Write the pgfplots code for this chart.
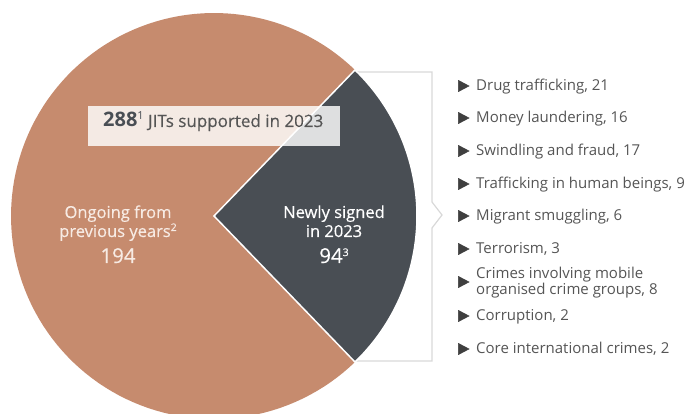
\documentclass[border=0pt]{standalone}
\usepackage{pgfplots}
\pgfplotsset{compat=1.18}
\usepackage{fontspec}
\setmainfont{Open Sans}
\newfontfamily\semib[FakeBold=0.3]{Open Sans}
\definecolor{pieorange}{HTML}{C68B6E}
\definecolor{piedark}{HTML}{494E54}
\definecolor{legtext}{HTML}{555555}
\definecolor{legtri}{HTML}{3F3F3F}
\definecolor{brack}{HTML}{D8D8D8}
\definecolor{ongoingtext}{HTML}{F7EBE4}
\begin{document}
\begin{tikzpicture}
\begin{axis}[
  name=ax,
  width=687bp, height=414bp, scale only axis,
  xmin=0, xmax=687, ymin=0, ymax=414,
  hide axis, clip=true,
]
% bracket
\addplot[brack, line width=1.2bp, sharp plot, no marks] coordinates {
 (350,342) (432,342) (432,212) (442,199) (432,186) (432,53) (350,53)};
% pie: ongoing (194) and newly signed (94)
\addplot[fill=pieorange, draw=none, domain=46:314, samples=120, variable=\t]
  ({214+203*cos(\t)},{198+203*sin(\t)}) -- (axis cs:214,198) -- cycle;
\addplot[fill=piedark, draw=white, line width=1.5bp, domain=-46:46, samples=60, variable=\t]
  ({214+203*cos(\t)},{198+203*sin(\t)}) -- (axis cs:214,198) -- cycle;
% title box
\fill[white, fill opacity=0.82] (axis cs:88,268) rectangle (axis cs:340,308);
\node[anchor=base west, inner sep=0pt, text=piedark] at (axis cs:103,287)
  {\fontsize{20bp}{22bp}\selectfont\bfseries 288\raisebox{7bp}{\fontsize{11bp}{12bp}\selectfont\mdseries 1}\fontsize{17bp}{20bp}\selectfont\mdseries\semib\color{legtext}\ JITs supported in 2023};
% pie labels
\node[anchor=base, inner sep=0pt, text=ongoingtext] at (axis cs:118,196) {\fontsize{16.5bp}{19bp}\selectfont\semib Ongoing from};
\node[anchor=base, inner sep=0pt, text=ongoingtext] at (axis cs:118,177) {\fontsize{16.5bp}{19bp}\selectfont\semib previous years\raisebox{6bp}{\fontsize{10.5bp}{11bp}\selectfont 2}};
\node[anchor=base, inner sep=0pt, text=ongoingtext] at (axis cs:118,151) {\fontsize{20.5bp}{23bp}\selectfont\semib 194};
\node[anchor=base, inner sep=0pt, text=white] at (axis cs:334,196) {\fontsize{16.5bp}{19bp}\selectfont\semib Newly signed};
\node[anchor=base, inner sep=0pt, text=white] at (axis cs:334,177) {\fontsize{16.5bp}{19bp}\selectfont\semib in 2023};
\node[anchor=base, inner sep=0pt, text=white] at (axis cs:334,151) {\fontsize{20.5bp}{23bp}\selectfont\semib 94\raisebox{7bp}{\fontsize{10.5bp}{11bp}\selectfont 3}};
% legend bullets
\addplot[only marks, mark=triangle*, mark size=6.5bp, mark options={rotate=-90, fill=legtri, draw=legtri, yscale=1.1}] coordinates {
 (462,328) (462,296) (462,263) (462,230) (462,198) (462,165) (462,132) (462,98) (462,65)};
% legend text
\begin{scope}[every node/.style={anchor=base west, inner sep=0pt, text=legtext, font=\fontsize{15bp}{18bp}\selectfont}]
\node at (axis cs:476,323) {Drug trafficking, 21};
\node at (axis cs:476,291) {Money laundering, 16};
\node at (axis cs:476,258) {Swindling and fraud, 17};
\node at (axis cs:476,225) {Trafficking in human beings, 9};
\node at (axis cs:476,193) {Migrant smuggling, 6};
\node at (axis cs:476,160) {Terrorism, 3};
\node at (axis cs:476,135) {Crimes involving mobile};
\node at (axis cs:476,119) {organised crime groups, 8};
\node at (axis cs:476,93) {Corruption, 2};
\node at (axis cs:476,60) {Core international crimes, 2};
\end{scope}
\end{axis}
\pgfresetboundingbox
\useasboundingbox (ax.south west) rectangle (ax.north east);
\end{tikzpicture}
\end{document}
